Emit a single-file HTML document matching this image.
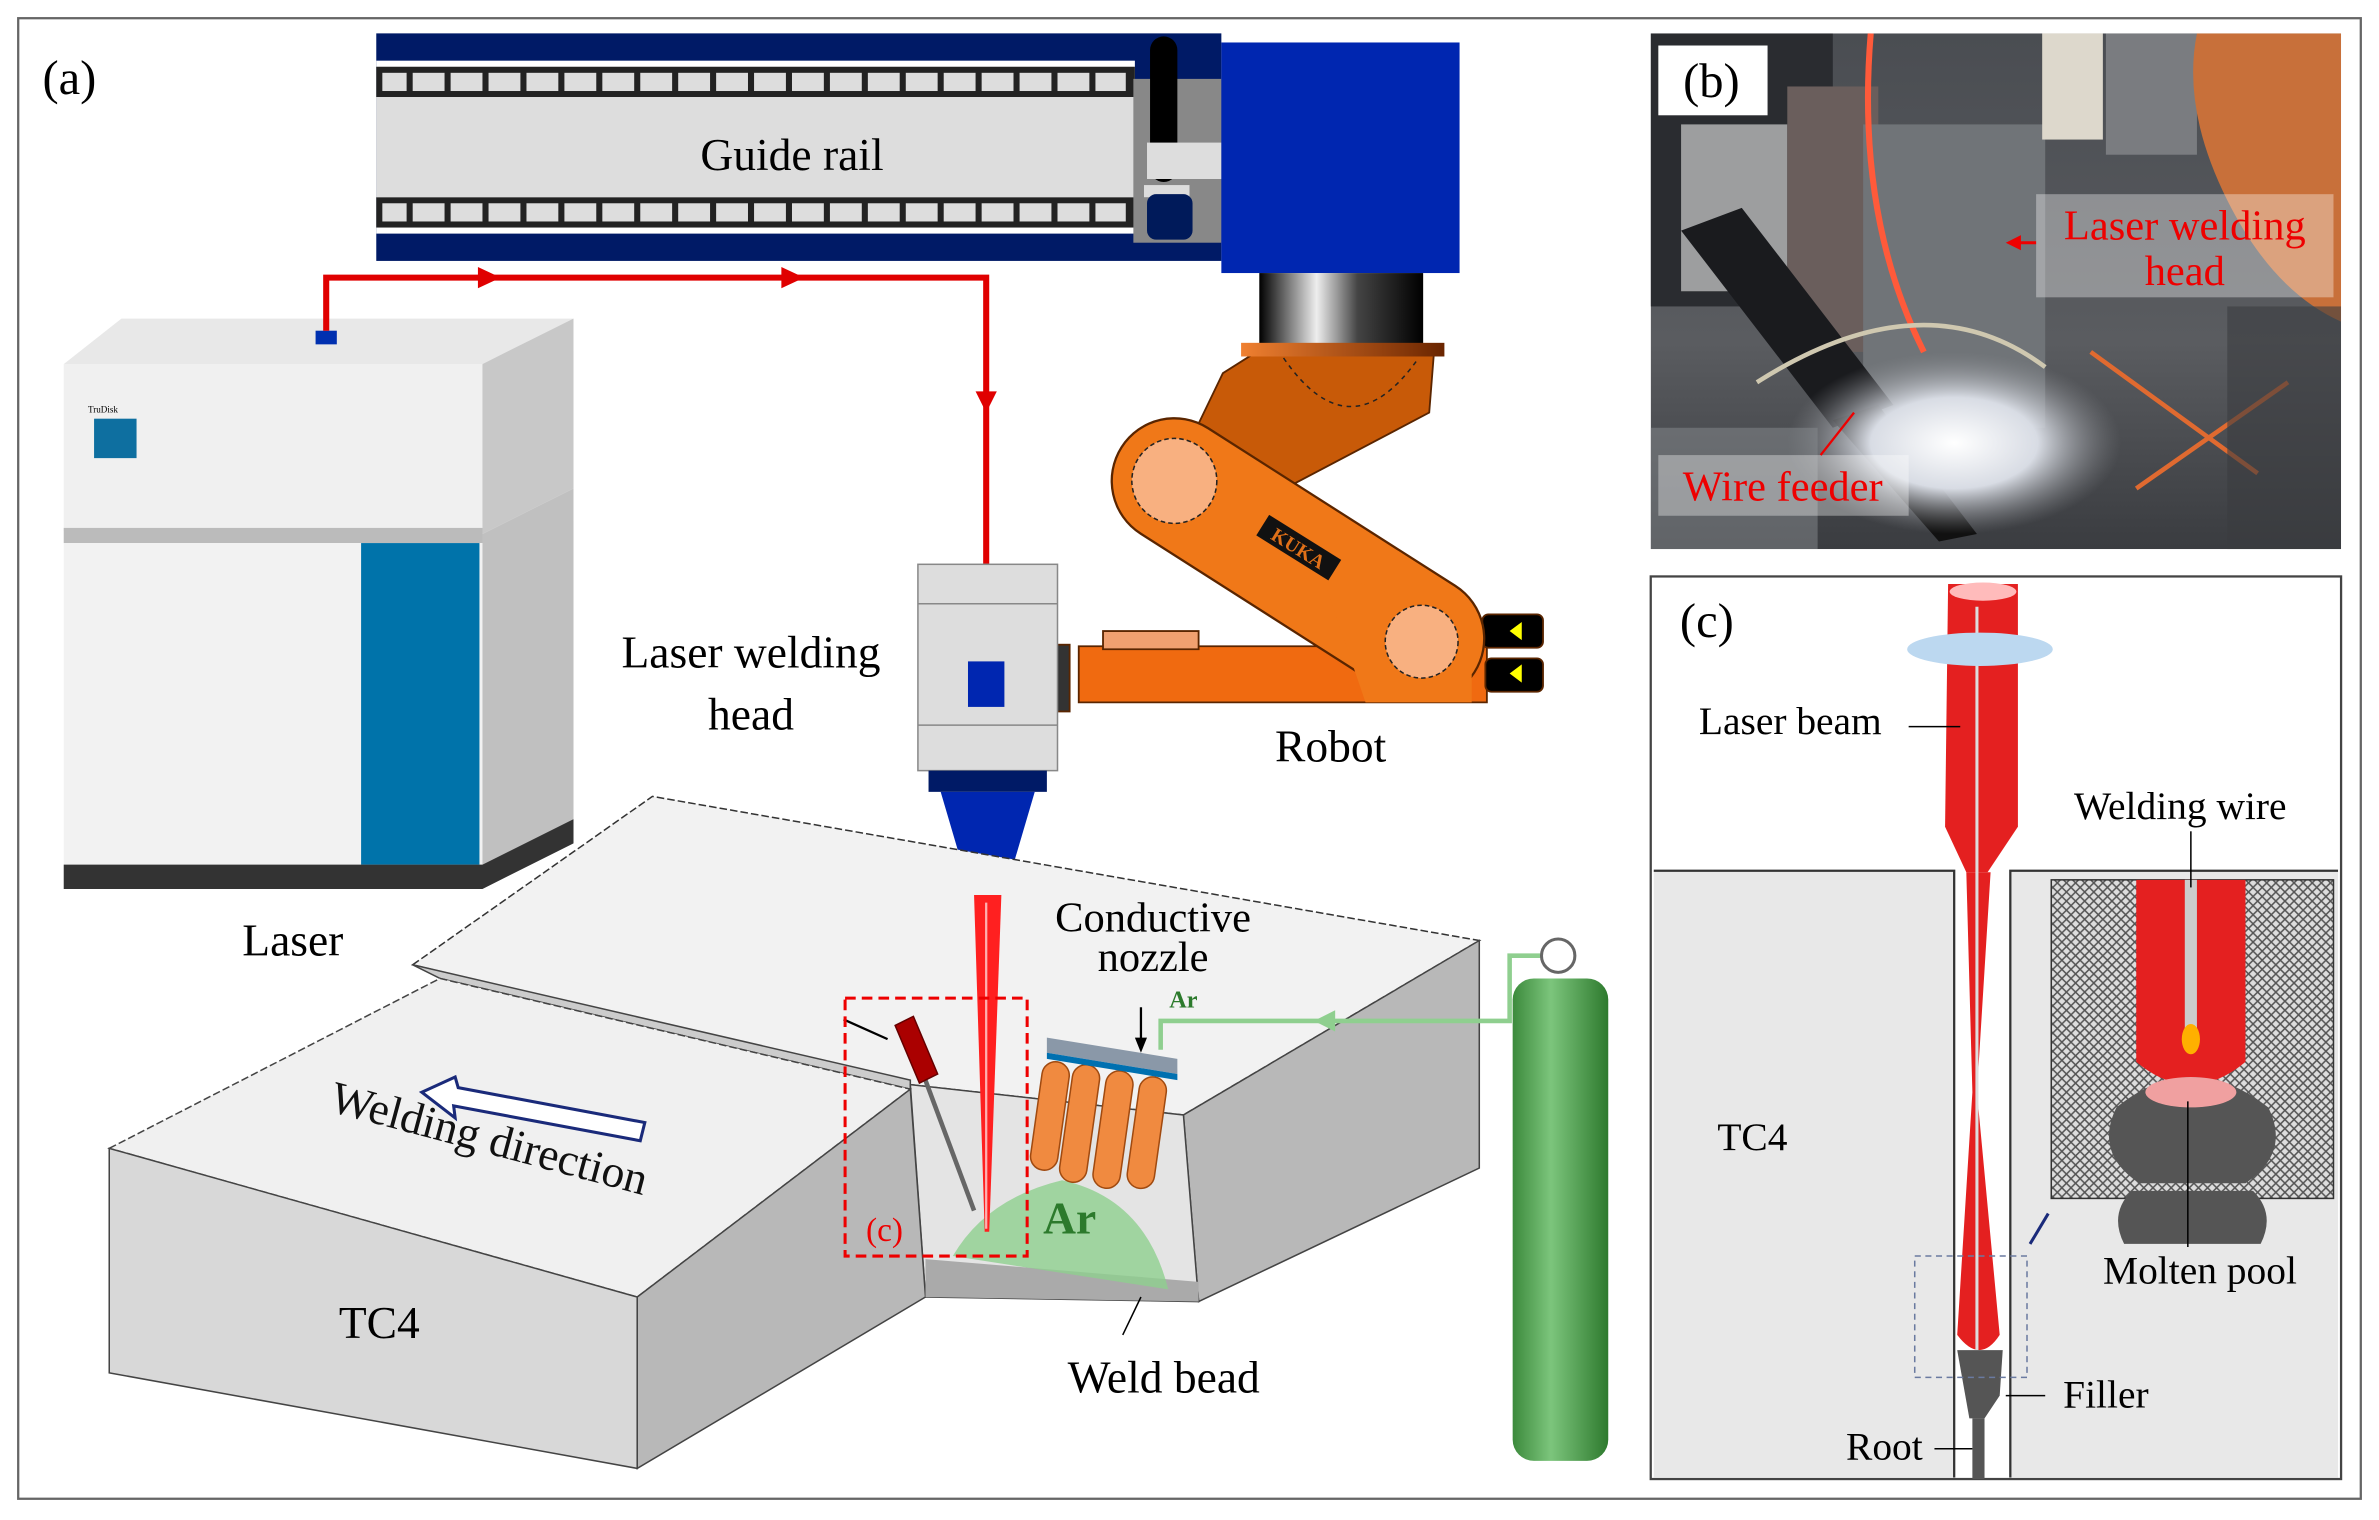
<!DOCTYPE html>
<html><head><meta charset="utf-8"><style>
html,body{margin:0;padding:0;background:#fff;}
svg{display:block;}
text{font-family:"Liberation Serif",serif;}
</style></head><body>
<svg width="2379" height="1520" viewBox="0 0 1568 1002" preserveAspectRatio="none" xmlns="http://www.w3.org/2000/svg">
<defs>
<linearGradient id="cyl" x1="0" x2="1"><stop offset="0" stop-color="#000"/><stop offset="0.35" stop-color="#eee"/><stop offset="0.6" stop-color="#444"/><stop offset="1" stop-color="#000"/></linearGradient>
<linearGradient id="fl" x1="0" x2="1"><stop offset="0" stop-color="#f08030"/><stop offset="1" stop-color="#6a2500"/></linearGradient>
<linearGradient id="photo" x1="0" y1="0" x2="0" y2="1"><stop offset="0" stop-color="#4a4d52"/><stop offset="0.6" stop-color="#5a5c60"/><stop offset="1" stop-color="#3a3c40"/></linearGradient>
<radialGradient id="glow" cx="0.5" cy="0.5" r="0.5"><stop offset="0" stop-color="#ffffff"/><stop offset="0.5" stop-color="#d8dce4"/><stop offset="1" stop-color="#8a8c90" stop-opacity="0"/></radialGradient>
<pattern id="hatch" width="6" height="6" patternUnits="userSpaceOnUse"><rect width="6" height="6" fill="#ddd"/><path d="M0 0L6 6M6 0L0 6" stroke="#555" stroke-width="1"/></pattern>
<linearGradient id="gas" x1="0" x2="1"><stop offset="0" stop-color="#3c8a3c"/><stop offset="0.4" stop-color="#7cc57c"/><stop offset="1" stop-color="#2e7a2e"/></linearGradient>
</defs>
<rect x="12" y="12" width="1544" height="976" fill="none" stroke="#666" stroke-width="1.5"/>
<text x="28" y="62" font-size="32">(a)</text>
<!-- guide rail -->
<rect x="248" y="22" width="557" height="150" fill="#001a66"/>
<rect x="248" y="40" width="500" height="114" fill="#fff"/>
<rect x="248" y="44" width="500" height="20" fill="#222"/>
<rect x="248" y="130" width="500" height="20" fill="#222"/>
<g fill="#ddd">
<rect x="252" y="48" width="490" height="12"/><rect x="252" y="134" width="490" height="12"/>
</g>
<g stroke="#222" stroke-width="4">
<path d="M270 46V62M295 46V62M320 46V62M345 46V62M370 46V62M395 46V62M420 46V62M445 46V62M470 46V62M495 46V62M520 46V62M545 46V62M570 46V62M595 46V62M620 46V62M645 46V62M670 46V62M695 46V62M720 46V62"/>
<path d="M270 132V148M295 132V148M320 132V148M345 132V148M370 132V148M395 132V148M420 132V148M445 132V148M470 132V148M495 132V148M520 132V148M545 132V148M570 132V148M595 132V148M620 132V148M645 132V148M670 132V148M695 132V148M720 132V148"/>
</g>
<rect x="248" y="64" width="500" height="66" fill="#ddd"/>
<text x="522" y="112" font-size="30" text-anchor="middle">Guide rail</text>
<rect x="747" y="52" width="58" height="108" fill="#888"/>
<rect x="758" y="24" width="18" height="96" rx="9" fill="#000"/>
<rect x="756" y="94" width="49" height="24" fill="#ddd"/>
<rect x="754" y="122" width="30" height="8" fill="#ddd"/>
<rect x="756" y="128" width="30" height="30" rx="6" fill="#001a5a"/>
<rect x="805" y="28" width="157" height="152" fill="#0026b0"/>
<rect x="830" y="180" width="108" height="50" fill="url(#cyl)"/>
<!-- robot -->
<g stroke="#5a2500" stroke-width="1.2">
<path d="M806 246L825 234H945L942 272L847 322L780 300Z" fill="#c85a08"/>
<path d="M711 426H980V463H711Z" fill="#f06a10"/>
<path d="M727 416H790V428H727Z" fill="#f0a070"/>
<rect x="692" y="425" width="13" height="44" fill="#333"/>
<rect x="977" y="405" width="40" height="22" rx="4" fill="#000"/>
<rect x="979" y="434" width="38" height="22" rx="4" fill="#000"/>
</g>
<path d="M774 317L937 421" stroke="#5a2500" stroke-width="84" stroke-linecap="round"/>
<path d="M774 317L937 421" stroke="#f07818" stroke-width="81" stroke-linecap="round"/>
<path d="M870 375L970 410V463H900Z" fill="#f07818"/>
<rect x="818" y="226" width="134" height="9" fill="url(#fl)"/>
<path d="M846 236Q890 300 935 236" fill="none" stroke="#222" stroke-dasharray="3 3"/>
<circle cx="774" cy="317" r="28" fill="#f8b080" stroke="#222" stroke-dasharray="3 2"/>
<circle cx="937" cy="423" r="24" fill="#f8b080" stroke="#222" stroke-dasharray="3 2"/>
<path d="M1003 410L995 416L1003 422Z M1003 438L995 444L1003 450Z" fill="#ff0"/>
<rect x="828" y="353" width="56" height="16" fill="#111" transform="rotate(32 856 361)"/>
<text x="856" y="366" font-size="13" fill="#e07018" font-weight="bold" text-anchor="middle" transform="rotate(32 856 361)">KUKA</text>
<text x="877" y="502" font-size="30" text-anchor="middle">Robot</text>
<!-- laser box -->
<path d="M42 240L80 210H378V240Z" fill="#e8e8e8"/>
<rect x="42" y="240" width="276" height="110" fill="#f0f0f0"/>
<path d="M318 240L378 210V322L318 352Z" fill="#c8c8c8"/>
<rect x="42" y="348" width="276" height="10" fill="#bbb"/>
<rect x="42" y="358" width="276" height="212" fill="#f2f2f2"/>
<rect x="238" y="358" width="78" height="212" fill="#0073aa"/>
<path d="M318 352L378 322V540L318 570Z" fill="#c0c0c0"/>
<path d="M42 570H318L378 540V556L318 586H42Z" fill="#333"/>
<rect x="62" y="276" width="28" height="26" fill="#0e6fa0"/>
<text x="58" y="272" font-size="6">TruDisk</text>
<rect x="208" y="218" width="14" height="9" fill="#0030b0"/>
<text x="193" y="630" font-size="30" text-anchor="middle">Laser</text>
<!-- red fiber -->
<path d="M215 218V183H650V372" fill="none" stroke="#e00000" stroke-width="4"/>
<path d="M315 176L330 183L315 190Z M515 176L530 183L515 190Z M643 258L650 272L657 258Z" fill="#e00000"/>
<!-- laser head -->
<rect x="605" y="372" width="92" height="136" fill="#ddd" stroke="#888"/>
<path d="M605 398H697M605 478H697" stroke="#888"/>
<rect x="638" y="436" width="24" height="30" fill="#0026b0"/>
<rect x="612" y="508" width="78" height="14" fill="#001a66"/>
<path d="M620 522H682L662 590H640Z" fill="#0026b0"/>
<text x="495" y="440" font-size="30" text-anchor="middle">Laser welding</text>
<text x="495" y="481" font-size="30" text-anchor="middle">head</text>
<!-- workpiece -->
<path d="M272 636L430 525L975 620L780 735L600 715Z" fill="#f2f2f2" stroke="#333" stroke-dasharray="5 2"/>
<path d="M975 620V770L790 858L780 735Z" fill="#b8b8b8" stroke="#444"/>
<path d="M272 636L290 645L600 718L600 712Z" fill="#ccc" stroke="#444"/>
<path d="M600 715L780 735L790 858L610 855Z" fill="#e4e4e4" stroke="#444"/>
<path d="M72 757L290 645L600 718L420 855Z" fill="#f0f0f0" stroke="#444" stroke-dasharray="5 2"/>
<path d="M72 757L420 855V968L72 905Z" fill="#d8d8d8" stroke="#444"/>
<path d="M420 855L600 718L610 855L420 968Z" fill="#b8b8b8" stroke="#444"/>
<path d="M610 830L790 845V858L610 855Z" fill="#aaa"/>
<text x="250" y="882" font-size="30" text-anchor="middle">TC4</text>
<text x="320" y="760" font-size="30" text-anchor="middle" fill="#111" transform="rotate(15 320 760)">Welding direction</text>
<path d="M278 720L300 710L302 717L425 740L422 752L299 729L300 737Z" fill="#fff" stroke="#1a2a7a" stroke-width="2"/>
<!-- Ar dome -->
<path d="M628 828Q650 790 700 778Q755 790 770 850L628 828Z" fill="#8fcf8f" opacity="0.8"/>
<text x="705" y="813" font-size="30" font-weight="bold" fill="#2c7a2c" text-anchor="middle">Ar</text>
<!-- beam -->
<path d="M642 590H660L652 812H649Z" fill="#ff2020"/>
<path d="M650 595V810" stroke="#ffb0b0" stroke-width="1.5"/>
<!-- nozzle -->
<g fill="#f08a40" stroke="#a04a10">
<rect x="688" y="700" width="18" height="72" rx="9" transform="rotate(8 697 700)"/>
<rect x="708" y="702" width="18" height="78" rx="9" transform="rotate(8 717 702)"/>
<rect x="730" y="706" width="18" height="78" rx="9" transform="rotate(8 739 706)"/>
<rect x="752" y="710" width="18" height="74" rx="9" transform="rotate(8 761 710)"/>
</g>
<path d="M690 684L776 698V708L690 694Z" fill="#8a98a8"/>
<path d="M690 694L776 708V712L690 698Z" fill="#0070b0"/>
<path d="M752 664V690" stroke="#000" stroke-width="1.5"/>
<path d="M748 684L752 694L756 684Z"/>
<text x="760" y="614" font-size="28" text-anchor="middle">Conductive</text>
<text x="760" y="640" font-size="28" text-anchor="middle">nozzle</text>
<!-- wire feeder -->
<path d="M598 680L642 798" stroke="#666" stroke-width="3"/>
<path d="M590 676L602 670L618 708L606 714Z" fill="#a00" stroke="#600"/>
<path d="M556 672L585 685" stroke="#000" stroke-width="1.5"/>
<rect x="557" y="658" width="120" height="170" fill="none" stroke="#e00" stroke-width="2" stroke-dasharray="7 4"/>
<text x="583" y="818" font-size="22" fill="#e00" text-anchor="middle">(c)</text>
<!-- gas -->
<path d="M1030 630H995V673H765V692" fill="none" stroke="#8fcf8f" stroke-width="3"/>
<path d="M880 666L866 673L880 680Z" fill="#8fcf8f"/>
<text x="780" y="664" font-size="16" font-weight="bold" fill="#2c7a2c" text-anchor="middle">Ar</text>
<rect x="997" y="645" width="63" height="318" rx="14" fill="url(#gas)"/>
<circle cx="1027" cy="630" r="11" fill="#fff" stroke="#666" stroke-width="2"/>
<text x="767" y="918" font-size="30" text-anchor="middle">Weld bead</text>
<path d="M740 880L752 855" stroke="#000"/>
<!-- panel b -->
<svg x="1088" y="22" width="455" height="340" viewBox="0 0 455 340" preserveAspectRatio="none">
<rect width="455" height="340" fill="url(#photo)"/>
<rect x="0" y="0" width="120" height="180" fill="#2a2c30"/>
<rect x="20" y="60" width="70" height="110" fill="#cfcfcf" opacity="0.7"/>
<rect x="90" y="35" width="60" height="175" fill="#6a5e5c"/>
<rect x="140" y="60" width="120" height="200" fill="#707478"/>
<rect x="258" y="0" width="40" height="70" fill="#ddd8cc"/>
<rect x="300" y="0" width="60" height="80" fill="#7a7c80"/>
<path d="M360 0H455V190Q410 170 380 110Q350 50 360 0Z" fill="#c8703a"/>
<path d="M145 0Q135 120 180 210" fill="none" stroke="#ff5a3a" stroke-width="4"/>
<path d="M20 130L60 115L160 245L120 260Z" fill="#1a1b1e"/>
<path d="M120 255L150 245L215 330L190 335Z" fill="#111"/>
<path d="M70 230Q180 160 260 220" fill="none" stroke="#cfc8b0" stroke-width="3"/>
<ellipse cx="200" cy="270" rx="110" ry="60" fill="url(#glow)"/>
<path d="M290 210L400 290M320 300L420 230" stroke="#e06a30" stroke-width="3"/>
<rect x="380" y="180" width="75" height="160" fill="#3a3c40" opacity="0.6"/>
<rect x="0" y="260" width="110" height="80" fill="#888c90" opacity="0.5"/>
</svg>
<rect x="1093" y="30" width="72" height="46" fill="#fff"/>
<text x="1128" y="64" font-size="32" text-anchor="middle">(b)</text>
<rect x="1342" y="128" width="196" height="68" fill="#fff" opacity="0.35"/>
<text x="1440" y="158" font-size="28" fill="#e00" text-anchor="middle">Laser welding</text>
<text x="1440" y="188" font-size="28" fill="#e00" text-anchor="middle">head</text>
<path d="M1342 160H1325" stroke="#e00" stroke-width="2"/><path d="M1322 160L1332 155V165Z" fill="#e00"/>
<rect x="1093" y="300" width="165" height="40" fill="#fff" opacity="0.35"/>
<text x="1175" y="330" font-size="28" fill="#e00" text-anchor="middle">Wire feeder</text>
<path d="M1200 300L1222 272" stroke="#e00" stroke-width="1.5"/>
<!-- panel c -->
<rect x="1088" y="380" width="455" height="595" fill="#fff" stroke="#444" stroke-width="1.5"/>
<rect x="1090" y="574" width="198" height="400" fill="#e8e8e8"/>
<rect x="1325" y="574" width="216" height="400" fill="#e8e8e8"/>
<path d="M1090 574H1288V974M1325 974V574H1541" fill="none" stroke="#333" stroke-width="1.5"/>
<rect x="1352" y="580" width="186" height="210" fill="url(#hatch)" stroke="#333"/>
<path d="M1408 580H1480V700Q1444 730 1408 700Z" fill="#e42020"/>
<rect x="1440" y="580" width="8" height="100" fill="#ccc"/>
<ellipse cx="1444" cy="685" rx="6" ry="10" fill="#ffb000"/>
<path d="M1395 730Q1444 690 1495 730Q1510 760 1480 780H1410Q1380 760 1395 730Z" fill="#555"/>
<path d="M1405 785H1485Q1500 800 1490 820H1400Q1390 800 1405 785Z" fill="#555"/>
<ellipse cx="1444" cy="720" rx="30" ry="10" fill="#f0a0a0"/>
<path d="M1284 385H1330V545L1310 575L1296 575L1282 545Z" fill="#e42020"/>
<path d="M1296 575L1312 575L1303 720L1318 880Q1305 900 1290 880L1300 720Z" fill="#e42020"/>
<path d="M1303 400V890" stroke="#ddd" stroke-width="2"/>
<ellipse cx="1307" cy="390" rx="22" ry="6" fill="#ffbbbb"/>
<ellipse cx="1305" cy="428" rx="48" ry="11" fill="#bcd8f0"/>
<path d="M1290 890H1320L1318 920L1308 935H1298Z" fill="#555"/>
<path d="M1300 935H1308V975H1300Z" fill="#555"/>
<rect x="1262" y="828" width="74" height="80" fill="none" stroke="#6a7aa0" stroke-dasharray="4 3"/>
<path d="M1338 820L1350 800" stroke="#1a2a7a" stroke-width="2"/>
<text x="1125" y="420" font-size="32" text-anchor="middle">(c)</text>
<text x="1180" y="484" font-size="26" text-anchor="middle">Laser beam</text>
<path d="M1258 479H1292" stroke="#000"/>
<text x="1437" y="540" font-size="26" text-anchor="middle">Welding wire</text>
<path d="M1444 548V585" stroke="#000"/>
<text x="1155" y="758" font-size="26" text-anchor="middle">TC4</text>
<path d="M1442 726V822" stroke="#000"/>
<text x="1450" y="846" font-size="26" text-anchor="middle">Molten pool</text>
<text x="1388" y="928" font-size="26" text-anchor="middle">Filler</text>
<path d="M1348 920H1322" stroke="#000"/>
<text x="1242" y="962" font-size="26" text-anchor="middle">Root</text>
<path d="M1275 955H1300" stroke="#000"/>
</svg>
</body></html>
